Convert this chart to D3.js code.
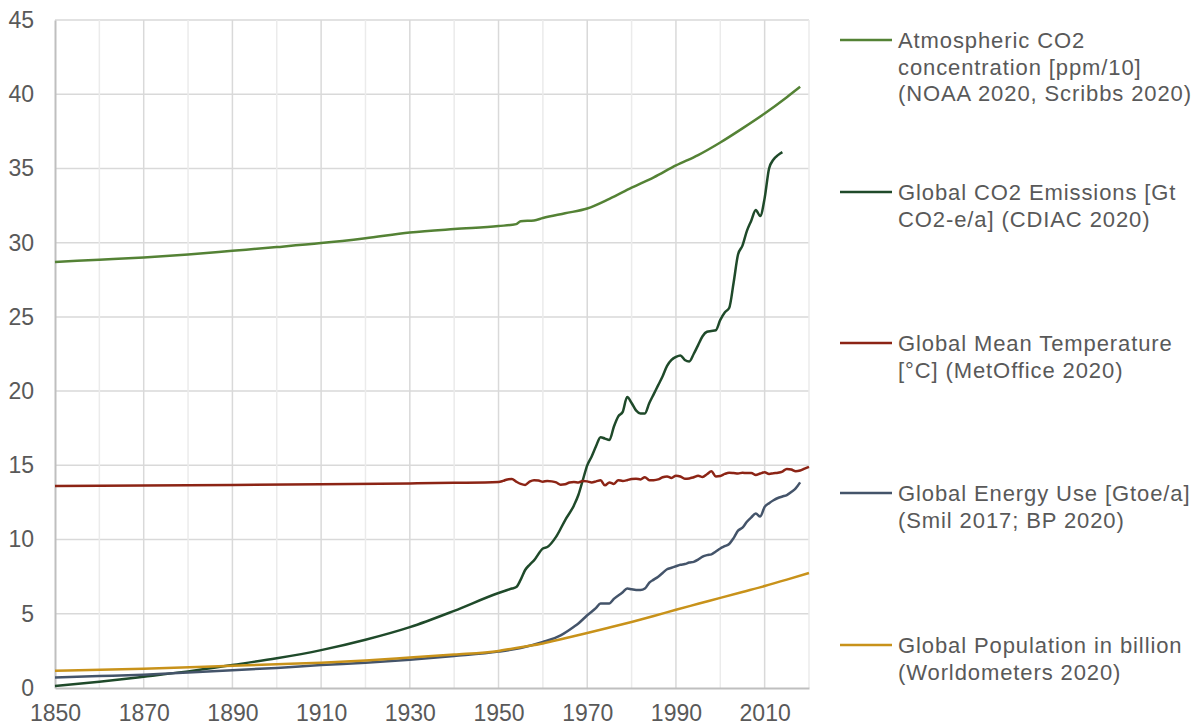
<!DOCTYPE html>
<html>
<head>
<meta charset="utf-8">
<script src="https://cdn.jsdelivr.net/npm/d3@7"></script>
<style>
  body { margin: 0; background: #fff; }
  text { font-family: "Liberation Sans", Arial, sans-serif; fill: #595959; }
</style>
</head>
<body>
<div id="graph"></div>
<script>
// series, [year, value]
var co2Conc = [[1850,28.7],[1860,28.85],[1870,29.0],[1880,29.2],[1890,29.45],[1900,29.7],[1910,29.97],[1920,30.3],[1930,30.68],[1940,30.92],[1950,31.12],[1954,31.25],[1955,31.45],[1958,31.5],[1960,31.66],[1965,31.98],[1970,32.3],[1975,32.95],[1980,33.7],[1985,34.4],[1990,35.2],[1995,35.9],[2000,36.75],[2005,37.7],[2010,38.7],[2015,39.8],[2018,40.5]]

var emissions = [[1850,0.13],[1860,0.42],[1870,0.76],[1880,1.12],[1890,1.55],[1900,2.0],[1910,2.55],[1920,3.25],[1930,4.1],[1940,5.2],[1950,6.4],[1953,6.7],[1954,6.8],[1955,7.3],[1956,7.95],[1957,8.3],[1958,8.6],[1960,9.4],[1961,9.5],[1963,10.2],[1965,11.3],[1967,12.3],[1968,13.0],[1969,14.0],[1970,15.0],[1971,15.6],[1972,16.3],[1973,16.9],[1974,16.8],[1975,16.7],[1976,17.6],[1977,18.3],[1978,18.6],[1979,19.6],[1980,19.2],[1981,18.7],[1982,18.5],[1983,18.5],[1984,19.2],[1985,19.8],[1986,20.4],[1987,21.0],[1988,21.7],[1989,22.1],[1990,22.3],[1991,22.4],[1992,22.1],[1993,22.0],[1994,22.5],[1995,23.1],[1996,23.7],[1997,24.0],[1998,24.05],[1999,24.1],[2000,24.8],[2001,25.3],[2002,25.6],[2003,27.3],[2004,29.2],[2005,29.8],[2006,30.8],[2007,31.5],[2008,32.2],[2009,31.8],[2010,33.0],[2011,35.0],[2012,35.6],[2013,35.9],[2014,36.1]]

var temperature = [[1850,13.6],[1870,13.64],[1890,13.68],[1910,13.72],[1930,13.78],[1940,13.82],[1950,13.88],[1951,13.95],[1952,14.05],[1953,14.08],[1954,13.9],[1955,13.75],[1956,13.68],[1957,13.9],[1958,14.0],[1959,13.98],[1960,13.9],[1961,13.95],[1962,13.92],[1963,13.85],[1964,13.7],[1965,13.72],[1966,13.85],[1967,13.88],[1968,13.85],[1969,13.95],[1970,13.92],[1971,13.85],[1972,13.92],[1973,14.0],[1974,13.65],[1975,13.85],[1976,13.75],[1977,14.0],[1978,13.95],[1979,14.0],[1980,14.08],[1981,14.1],[1982,14.05],[1983,14.2],[1984,14.0],[1985,14.0],[1986,14.05],[1987,14.2],[1988,14.25],[1989,14.15],[1990,14.3],[1991,14.25],[1992,14.1],[1993,14.12],[1994,14.2],[1995,14.3],[1996,14.22],[1997,14.4],[1998,14.6],[1999,14.25],[2000,14.28],[2001,14.42],[2002,14.5],[2003,14.48],[2004,14.45],[2005,14.5],[2006,14.48],[2007,14.48],[2008,14.35],[2009,14.45],[2010,14.53],[2011,14.42],[2012,14.47],[2013,14.5],[2014,14.58],[2015,14.76],[2016,14.72],[2017,14.6],[2018,14.65],[2019,14.78],[2020,14.9]]

var energy = [[1850,0.7],[1860,0.8],[1870,0.9],[1880,1.05],[1890,1.2],[1900,1.35],[1910,1.55],[1920,1.7],[1930,1.9],[1940,2.15],[1950,2.45],[1955,2.7],[1960,3.1],[1964,3.55],[1967,4.13],[1968,4.35],[1970,4.9],[1972,5.4],[1973,5.7],[1974,5.7],[1975,5.7],[1976,6.0],[1978,6.45],[1979,6.7],[1980,6.65],[1981,6.6],[1982,6.6],[1983,6.7],[1984,7.1],[1985,7.3],[1986,7.5],[1987,7.75],[1988,8.0],[1989,8.1],[1990,8.2],[1991,8.3],[1992,8.35],[1993,8.45],[1994,8.5],[1995,8.65],[1996,8.85],[1997,8.95],[1998,9.0],[1999,9.2],[2000,9.4],[2001,9.55],[2002,9.7],[2003,10.1],[2004,10.6],[2005,10.8],[2006,11.2],[2007,11.5],[2008,11.75],[2009,11.55],[2010,12.2],[2011,12.45],[2012,12.65],[2013,12.8],[2014,12.9],[2015,13.0],[2016,13.2],[2017,13.45],[2018,13.85]]

var population = [[1850,1.17],[1870,1.3],[1890,1.5],[1900,1.6],[1910,1.7],[1920,1.85],[1930,2.05],[1940,2.25],[1950,2.5],[1955,2.75],[1960,3.0],[1965,3.35],[1970,3.7],[1975,4.07],[1980,4.45],[1985,4.85],[1990,5.27],[1995,5.67],[2000,6.07],[2005,6.47],[2010,6.87],[2015,7.3],[2020,7.75]]

var seriesNames = [
  ['Atmospheric CO2', 'concentration [ppm/10]', '(NOAA 2020, Scribbs 2020)'],
  ['Global CO2 Emissions [Gt', 'CO2-e/a] (CDIAC 2020)'],
  ['Global Mean Temperature', '[°C] (MetOffice 2020)'],
  ['Global Energy Use [Gtoe/a]', '(Smil 2017; BP 2020)'],
  ['Global Population in billion', '(Worldometers 2020)']
]
var seriesColors = ['#548235', '#1f4a2a', '#8c2415', '#44546a', '#c8921a']

var yTicks = d3.range(0, 46, 5)
var xLabels = d3.range(1850, 2011, 20)
var xGrid = d3.range(1860, 2021, 10)

var W = 1198, H = 727
var m = {left: 55, right: 389, top: 20, bottom: 39}

var x = d3.scaleLinear().domain([1850, 2020]).range([m.left, W - m.right])
var y = d3.scaleLinear().domain([0, 45]).range([H - m.bottom, m.top])

var svg = d3.select('#graph').append('svg')
  .attr('width', W).attr('height', H)

// grid
svg.append('g').selectAll('line').data(yTicks.filter(d => d > 0)).join('line')
  .attr('x1', x(1850)).attr('x2', x(2020))
  .attr('y1', d => y(d)).attr('y2', d => y(d))
  .attr('stroke', '#d9d9d9').attr('stroke-width', 1.5)

svg.append('g').selectAll('line').data(xGrid).join('line')
  .attr('x1', d => x(d)).attr('x2', d => x(d))
  .attr('y1', y(0)).attr('y2', y(45))
  .attr('stroke', d => d % 20 == 10 ? '#d9d9d9' : '#ebebeb').attr('stroke-width', 1.5)

// axes
var yAxis = svg.append('g')
  .attr('transform', 'translate(' + m.left + ',0)')
  .call(d3.axisLeft(y).tickValues(yTicks).tickSize(0).tickPadding(21))
var xAxis = svg.append('g')
  .attr('transform', 'translate(0,' + y(0) + ')')
  .call(d3.axisBottom(x).tickValues(xLabels).tickFormat(d3.format('d')).tickSize(0).tickPadding(17))

;[yAxis, xAxis].forEach(g => {
  g.select('.domain').attr('stroke', '#bfbfbf').attr('stroke-width', 2)
  g.selectAll('text').attr('font-size', 23).attr('fill', '#595959')
    .style('font-family', '"Liberation Sans", Arial, sans-serif')
})

// lines
var line = d3.line()
  .x(d => x(d[0]))
  .y(d => y(d[1]))
  .curve(d3.curveMonotoneX)

var allSeries = [co2Conc, emissions, temperature, energy, population]
svg.append('g').selectAll('path').data(allSeries).join('path')
  .attr('d', line)
  .attr('fill', 'none')
  .attr('stroke', (d, i) => seriesColors[i])
  .attr('stroke-width', 2.5)
  .attr('stroke-linejoin', 'round')

// legend
var legendY = [40, 192, 343, 493, 645]
var leg = svg.append('g').selectAll('g').data(seriesNames).join('g')
  .attr('transform', (d, i) => 'translate(840,' + legendY[i] + ')')

leg.append('line')
  .attr('x1', 0).attr('x2', 52)
  .attr('stroke', (d, i) => seriesColors[i]).attr('stroke-width', 2.5)

leg.append('text')
  .attr('x', 58).attr('y', 8)
  .attr('font-size', 22)
  .style('letter-spacing', '0.9px')
  .selectAll('tspan').data(d => d).join('tspan')
  .attr('x', 58)
  .attr('dy', (d, i) => i ? 26.5 : 0)
  .text(d => d)
</script>
</body>
</html>
